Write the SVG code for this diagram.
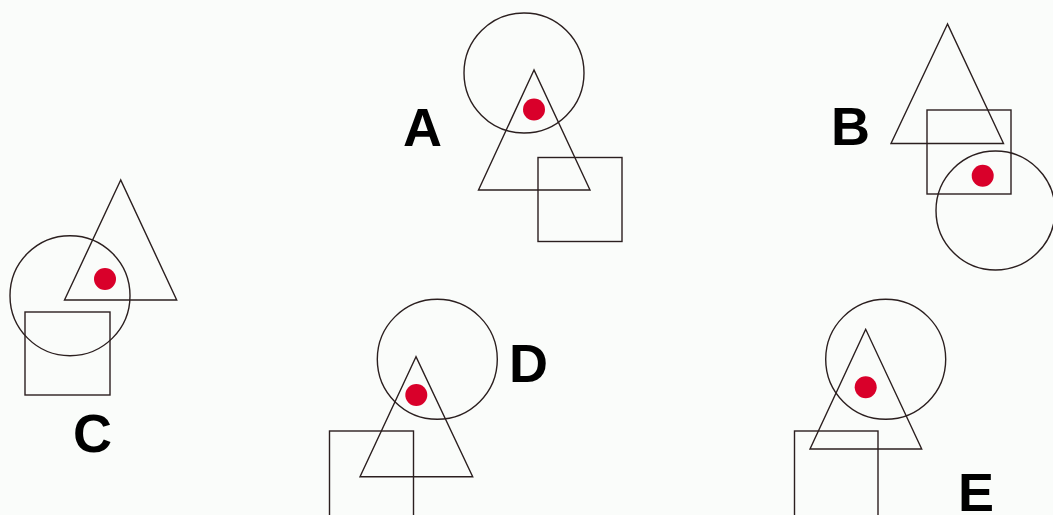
<svg xmlns="http://www.w3.org/2000/svg" width="1053" height="515" viewBox="0 0 1053 515">
<style>
.s{fill:none;stroke:#2b1f1f;stroke-width:1.4}
.d{fill:#d9002a}
.l{font-family:"Liberation Sans",Arial,sans-serif;font-weight:bold;font-size:54px;fill:#000}
</style>
<rect width="1053" height="515" fill="#fafcfa"/>
<g id="A">
<circle class="s" cx="524" cy="73" r="60"/>
<polygon class="s" points="534,70 478.5,190 590,190"/>
<rect class="s" x="538" y="157.5" width="84" height="84"/>
<circle class="d" cx="534" cy="109.5" r="11"/>
<text class="l" x="403" y="146">A</text>
</g>
<g id="B">
<polygon class="s" points="947.5,24 891,143.5 1003.5,143.5"/>
<rect class="s" x="927" y="110" width="84" height="84"/>
<circle class="s" cx="995.5" cy="210.5" r="59.5"/>
<circle class="d" cx="982.7" cy="175.7" r="11"/>
<text class="l" x="831" y="145">B</text>
</g>
<g id="C">
<polygon class="s" points="120.7,180 64.5,300 176.7,300"/>
<circle class="s" cx="70" cy="295.7" r="60"/>
<rect class="s" x="25" y="312" width="85" height="83"/>
<circle class="d" cx="105" cy="279" r="11"/>
<text class="l" x="73" y="452">C</text>
</g>
<g id="D">
<circle class="s" cx="437.3" cy="359.3" r="60"/>
<polygon class="s" points="416,356.7 360,476.7 472.7,476.7"/>
<rect class="s" x="329.5" y="431" width="84" height="86"/>
<circle class="d" cx="416.3" cy="395" r="11"/>
<text class="l" x="509" y="382">D</text>
</g>
<g id="E">
<circle class="s" cx="885.7" cy="359.3" r="60"/>
<polygon class="s" points="865.7,329.3 810,449 921.7,449"/>
<rect class="s" x="794.5" y="431" width="83.5" height="86"/>
<circle class="d" cx="865.7" cy="387.3" r="11"/>
<text class="l" x="958" y="511">E</text>
</g>
<g id="connectors"/>
</svg>
